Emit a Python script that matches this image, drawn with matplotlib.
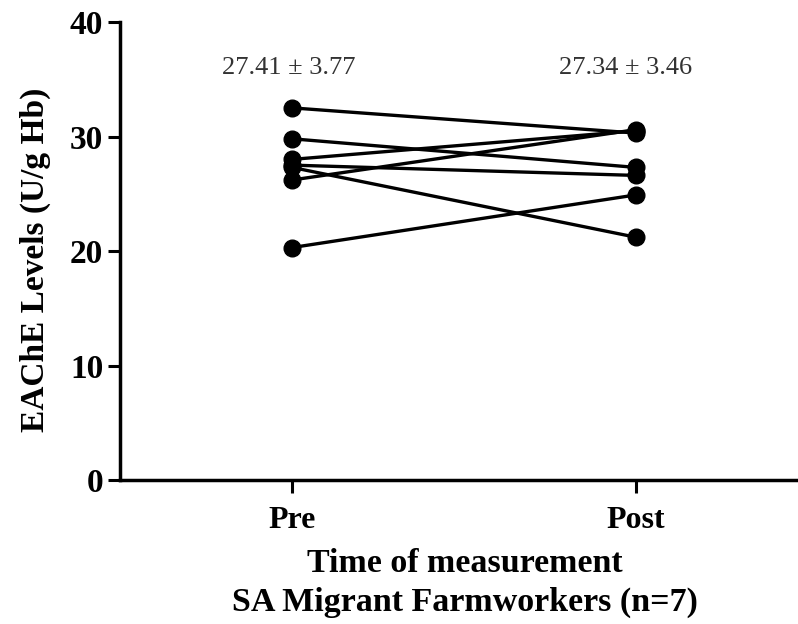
import matplotlib
matplotlib.use("Agg")
import matplotlib.pyplot as plt

categories = ["Pre", "Post"]
pre_values = [32.5, 29.8, 28.0, 27.5, 26.2, 27.3, 20.3]
post_values = [30.3, 27.3, 30.5, 26.6, 30.6, 21.2, 24.9]
annotations = ["27.41 \u00b1 3.77", "27.34 \u00b1 3.46"]
yticks = [0, 10, 20, 30, 40]

plt.rcParams['font.family'] = ['Liberation Serif', 'DejaVu Serif']

fig = plt.figure(figsize=(7.98, 6.24), dpi=100)
ax = fig.add_axes([120/798, 144/624, 720/798, 458/624])

xs = list(range(len(categories)))
for a, b in zip(pre_values, post_values):
    ax.plot(xs, [a, b], color='black', lw=2.4, marker='o', ms=12, clip_on=False, zorder=3)

ann_dx = [-0.01, -0.03]
for x, t, d in zip(xs, annotations, ann_dx):
    ax.text(x + d, 36.0, t, ha='center', va='center', fontsize=19, color='#333333')

ax.set_xlim(-0.5, 1.593)
ax.set_ylim(0, 40)
ax.set_xticks(xs)
ax.set_xticklabels(categories, fontsize=23, fontweight='bold')
ax.set_yticks(yticks)
ax.set_yticklabels([str(v) for v in yticks], fontsize=24, fontweight='bold')
ax.tick_params(axis='both', direction='out', length=9, width=2.2, pad=3)
ax.tick_params(axis='x', pad=10)
for s in ['top', 'right']:
    ax.spines[s].set_visible(False)
for s in ['left', 'bottom']:
    ax.spines[s].set_linewidth(2.5)
ax.set_ylabel("EAChE Levels (U/g Hb)", fontsize=24, fontweight='bold', va='center')
ax.yaxis.set_label_coords(-85/720, 0.48)
ax.set_xlabel("Time of measurement\nSA Migrant Farmworkers (n=7)", fontsize=24.5,
              fontweight='bold', linespacing=1.3, va='center')
ax.xaxis.set_label_coords((465 - 120) / 720, -103/458)

fig.savefig("out.png", dpi=100)
